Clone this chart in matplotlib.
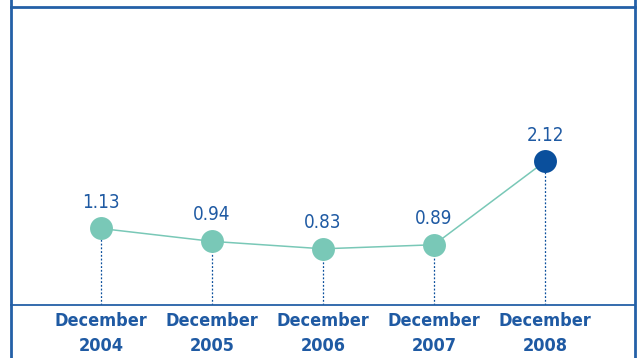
import matplotlib.pyplot as plt
from matplotlib.lines import Line2D

periods = ["December\n2004", "December\n2005", "December\n2006", "December\n2007", "December\n2008"]
values = [1.13, 0.94, 0.83, 0.89, 2.12]
value_labels = ["1.13", "0.94", "0.83", "0.89", "2.12"]

teal = "#79c8b7"
navy = "#0a4f9c"
frame = "#2460a7"
text_blue = "#1f5aa3"

W, H = 638, 358
fig = plt.figure(figsize=(W / 100, H / 100), dpi=100)

# axes area: x 11..635 px, y 7..305 px
ax = fig.add_axes([11 / W, 1 - 305 / H, 624 / W, 298 / H])
ax.set_xlim(-90 / 111, (635 - 101) / 111)
ax.set_ylim(0, 298 / 67.7)
ax.axis("off")

x = list(range(len(values)))
ax.plot(x, values, color=teal, lw=1.1, zorder=2)
for i, v in enumerate(values):
    c = navy if i == len(values) - 1 else teal
    ax.plot([i, i], [0, v], color=navy, lw=0.9, ls=(0, (1.5, 1.5)), zorder=1)
    ax.plot(i, v, "o", ms=16.5, color=c, mec="none", zorder=3)
    ax.annotate(value_labels[i], (i, v), xytext=(0, 19), textcoords="offset points",
                ha="center", va="center", fontsize=13.5, color=text_blue,
                family="DejaVu Sans", stretch="condensed")
    ax.annotate(periods[i], (i, 0), xytext=(0, -5), textcoords="offset points",
                ha="center", va="top", fontsize=13, color=text_blue, fontweight="bold",
                linespacing=1.5, family="DejaVu Sans", stretch="condensed")

# outer frame lines
lw = 2.0
fig.add_artist(Line2D([11 / W, 11 / W], [0, 1], color=frame, lw=lw))
fig.add_artist(Line2D([635 / W, 635 / W], [0, 1], color=frame, lw=lw))
fig.add_artist(Line2D([11 / W, 635 / W], [1 - 7 / H, 1 - 7 / H], color=frame, lw=lw))
fig.add_artist(Line2D([11 / W, 635 / W], [1 - 305 / H, 1 - 305 / H], color=frame, lw=1.3))

fig.savefig("out.png", dpi=100)
